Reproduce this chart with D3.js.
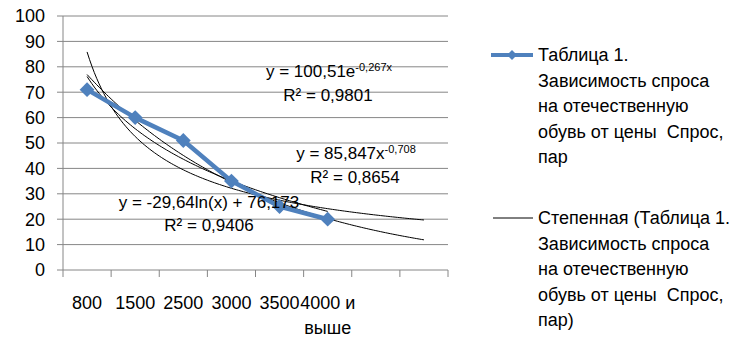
<!DOCTYPE html>
<html>
<head>
<meta charset="utf-8">
<script src="https://cdn.jsdelivr.net/npm/d3@7"></script>
<style>
  body { margin: 0; background: #fff; }
  text { font-family: "Liberation Sans", Arial, sans-serif; fill: #000; }
</style>
</head>
<body>
<svg id="chart" width="737" height="351"></svg>
<script>
const width = 737
const height = 351

// data
const categories = ['800', '1500', '2500', '3000', '3500', '4000 и выше']
const demand = [71, 60, 51, 35, 25, 20]
const yTicks = [0, 10, 20, 30, 40, 50, 60, 70, 80, 90, 100]

// trendlines (coefficients as shown on the chart)
const expFit = { a: 100.51, b: -0.267, from: 1, to: 8 }
const powFit = { a: 85.847, b: -0.708, from: 1, to: 8 }
const logFit = { a: -29.64, b: 76.173, from: 1, to: 6 }

const legendSeries = ['Таблица 1.', 'Зависимость спроса', 'на отечественную', 'обувь от цены  Спрос,', 'пар']
const legendTrend = ['Степенная (Таблица 1.', 'Зависимость спроса', 'на отечественную', 'обувь от цены  Спрос,', 'пар)']

const blue = '#4F81BD'
const grid = '#868686'

const svg = d3.select('#chart')

const x = d3.scaleLinear().domain([0.5, 8.5]).range([63, 448])
const y = d3.scaleLinear().domain([0, 100]).range([270, 16])

// gridlines + y ticks
svg.append('g')
  .selectAll('line')
  .data(yTicks)
  .enter().append('line')
  .attr('x1', 57).attr('x2', x(8.5))
  .attr('y1', d => y(d)).attr('y2', d => y(d))
  .attr('stroke', grid).attr('stroke-width', 1)

svg.append('g')
  .selectAll('text')
  .data(yTicks)
  .enter().append('text')
  .attr('x', 45)
  .attr('y', d => y(d))
  .attr('dy', '0.35em')
  .attr('text-anchor', 'end')
  .style('font-size', '18px')
  .text(d => d)

// axes lines
svg.append('line')
  .attr('x1', x(0.5)).attr('x2', x(0.5))
  .attr('y1', y(100)).attr('y2', y(0))
  .attr('stroke', grid)

svg.append('g')
  .selectAll('line')
  .data(d3.range(0, 9))
  .enter().append('line')
  .attr('x1', d => x(d + 0.5)).attr('x2', d => x(d + 0.5))
  .attr('y1', y(0)).attr('y2', y(0) + 7)
  .attr('stroke', grid)

// x labels
const xl = svg.append('g')
categories.forEach((c, i) => {
  const parts = c === '4000 и выше' ? ['4000 и', 'выше'] : [c]
  parts.forEach((p, j) => {
    xl.append('text')
      .attr('x', x(i + 1) + (j === 1 ? 0 : 0))
      .attr('y', 309 + j * 25)
      .attr('text-anchor', 'middle')
      .style('font-size', '18px')
      .text(p)
  })
})

// trendlines
function curve(f, fn) {
  const pts = d3.range(f.from, f.to + 0.0001, 0.05).map(t => [t, fn(t)])
  return d3.line().x(d => x(d[0])).y(d => y(d[1]))(pts)
}
const trendG = svg.append('g')
trendG.append('path').attr('d', curve(expFit, t => expFit.a * Math.exp(expFit.b * t)))
trendG.append('path').attr('d', curve(powFit, t => powFit.a * Math.pow(t, powFit.b)))
trendG.append('path').attr('d', curve(logFit, t => logFit.a * Math.log(t) + logFit.b))
trendG.selectAll('path').attr('fill', 'none').attr('stroke', '#000').attr('stroke-width', 1)

// main series
const line = d3.line().x((d, i) => x(i + 1)).y(d => y(d))
svg.append('path')
  .datum(demand)
  .attr('d', line)
  .attr('fill', 'none')
  .attr('stroke', blue)
  .attr('stroke-width', 4.5)
  .attr('stroke-linejoin', 'round')

const diamond = d3.symbol().type(d3.symbolSquare).size(110)
svg.append('g')
  .selectAll('path')
  .data(demand)
  .enter().append('path')
  .attr('d', diamond)
  .attr('transform', (d, i) => `translate(${x(i + 1)},${y(d)}) rotate(45)`)
  .attr('fill', blue)

// equation labels
function eqLabel(cx, cy, base, sup) {
  const t = svg.append('text')
    .attr('x', cx).attr('y', cy)
    .attr('dy', '0.35em')
    .attr('text-anchor', 'middle')
    .style('font-size', '17px')
  t.append('tspan').text(base)
  if (sup) t.append('tspan').attr('dy', '-0.5em').style('font-size', '11px').text(sup)
}
eqLabel(329, 71, 'y = 100,51e', '-0,267x')
eqLabel(328, 95, 'R² = 0,9801')
eqLabel(356, 153, 'y = 85,847x', '-0,708')
eqLabel(355, 177, 'R² = 0,8654')
eqLabel(209, 202, 'y = -29,64ln(x) + 76,173')
eqLabel(209, 225, 'R² = 0,9406')

// legend
const lg = svg.append('g')
lg.append('line')
  .attr('x1', 491).attr('x2', 533).attr('y1', 55).attr('y2', 55)
  .attr('stroke', blue).attr('stroke-width', 4)
lg.append('path')
  .attr('d', d3.symbol().type(d3.symbolSquare).size(50))
  .attr('transform', 'translate(512,55) rotate(45)')
  .attr('fill', blue)
lg.append('line')
  .attr('x1', 493).attr('x2', 533).attr('y1', 218).attr('y2', 218)
  .attr('stroke', '#000').attr('stroke-width', 1)

function legendText(lines, y0) {
  lines.forEach((l, i) => {
    lg.append('text')
      .attr('x', 538).attr('y', y0 + i * 25.5)
      .attr('dy', '0.35em')
      .style('font-size', '18px')
      .style('white-space', 'pre')
      .text(l)
  })
}
legendText(legendSeries, 55)
legendText(legendTrend, 218)
</script>
</body>
</html>
